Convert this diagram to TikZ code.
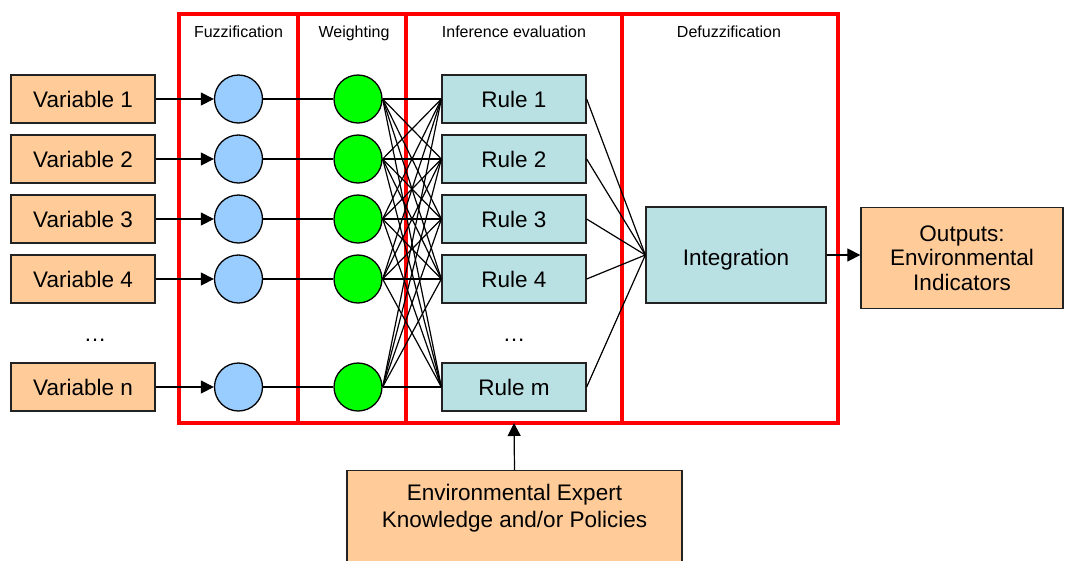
\documentclass[tikz,border=0pt]{standalone}
\usepackage{fontspec}
\setmainfont{Liberation Sans}
\usetikzlibrary{arrows.meta}
\definecolor{boxorange}{HTML}{FFCC99}
\definecolor{fuzzblue}{HTML}{99CCFF}
\definecolor{weightgreen}{HTML}{00FF00}
\definecolor{ruleteal}{HTML}{B9E0E3}
\definecolor{edgegray}{HTML}{222222}
\begin{document}
\begin{tikzpicture}[x=1pt,y=-1pt,
  varbox/.style={draw=edgegray,line width=1.3pt,fill=boxorange,minimum width=144pt,minimum height=48pt,inner sep=0pt,font=\fontsize{22.5}{25}\selectfont},
  rulebox/.style={draw=edgegray,line width=1.3pt,fill=ruleteal,minimum width=144pt,minimum height=48pt,inner sep=0pt,font=\fontsize{22.5}{25}\selectfont},
  fuzz/.style={circle,draw=black,line width=1.3pt,fill=fuzzblue,minimum size=48pt,inner sep=0pt},
  wgt/.style={circle,draw=black,line width=1.3pt,fill=weightgreen,minimum size=48pt,inner sep=0pt},
  stage/.style={draw=red,line width=4pt},
  stagelabel/.style={font=\fontsize{16}{18}\selectfont,anchor=base},
  link/.style={line width=1.2pt,black},
  feed/.style={line width=1.2pt,black,-{Triangle[length=13pt,width=13pt]}},
  dots/.style={font=\fontsize{22.5}{25}\selectfont}
]
\useasboundingbox (0,0) rectangle (1065,560);

% processing stages
\draw[stage] (179,14) rectangle (298,423);
\draw[stage] (298,14) rectangle (406,423);
\draw[stage] (406,14) rectangle (622,423);
\draw[stage] (622,14) rectangle (838,423);
\node[stagelabel] (lf) at (238.5,37.5) {Fuzzification};
\node[stagelabel] (lw) at (354,37.5) {Weighting};
\node[stagelabel] (li) at (514,37.5) {Inference evaluation};
\node[stagelabel] (ld) at (729,37.5) {Defuzzification};
\coordinate (inferbottom) at (514,423);

% inputs, membership and weighting nodes, rules
\foreach \i/\y/\lab/\rlab in {1/99/Variable 1/Rule 1,2/159/Variable 2/Rule 2,3/219/Variable 3/Rule 3,4/279/Variable 4/Rule 4,5/387/Variable n/Rule m}{
  \node[varbox] (v\i) at (83,\y) {\lab};
  \node[fuzz] (f\i) at (238.5,\y) {};
  \node[wgt] (w\i) at (358,\y) {};
  \node[rulebox] (r\i) at (514,\y) {\rlab};
  \draw[feed] (v\i.east) -- (f\i.west);
  \draw[link] (f\i.east) -- (w\i.west);
}
\node[dots] (vdots) at (95,340) {\dots};
\node[dots] (rdots) at (514,340) {\dots};

% every weighted input feeds every rule
\foreach \i in {1,...,5}{
  \foreach \j in {1,...,5}{
    \draw[link] (w\i.east) -- (r\j.west);
  }
}

% defuzzification
\node[rulebox,minimum width=180pt,minimum height=96pt,text height=26pt,text depth=6pt] (integ) at (736,255) {Integration};
\foreach \j in {1,...,5}{
  \draw[link] (r\j.east) -- (integ.west);
}
\node[varbox,minimum width=202pt,minimum height=101pt,align=center,font=\fontsize{22.5}{24.5}\selectfont] (out) at (962,258) {Outputs:\\Environmental\\Indicators};
\draw[feed] (integ.east) -- (out.west |- integ.east);

% expert knowledge
\node[varbox,minimum width=335pt,minimum height=110pt,align=center,anchor=north,font=\fontsize{22.5}{27}\selectfont,text depth=40pt] (expert) at (514.5,470) {Environmental Expert\\Knowledge and/or Policies};
\draw[feed] (expert.north) -- (inferbottom);
\end{tikzpicture}
\end{document}
